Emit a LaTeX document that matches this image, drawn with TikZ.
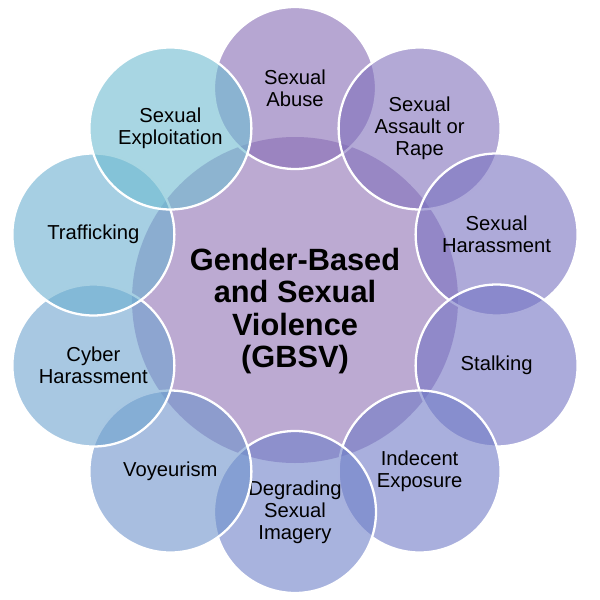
\documentclass[tikz,border=0pt]{standalone}
\usepackage{fontspec}
\setmainfont{Liberation Sans}
\usetikzlibrary{positioning,calc}

\definecolor{hubfill}{RGB}{188,170,210}
\definecolor{cabuse}{RGB}{133,107,180}
\definecolor{cassault}{RGB}{128,112,187}
\definecolor{charass}{RGB}{120,113,192}
\definecolor{cstalk}{RGB}{115,115,195}
\definecolor{cindecent}{RGB}{112,122,198}
\definecolor{cdegrade}{RGB}{110,128,200}
\definecolor{cvoyeur}{RGB}{110,147,203}
\definecolor{ccyber}{RGB}{110,163,207}
\definecolor{ctraffic}{RGB}{107,175,208}
\definecolor{cexploit}{RGB}{110,187,208}

\begin{document}
\begin{tikzpicture}
  \tikzstyle{hub}=[circle,fill=hubfill,minimum size=6.52cm,inner sep=0pt]
  \tikzstyle{petal}=[circle,draw=white,line width=1.3pt,fill opacity=0.6,text opacity=1,minimum size=3.24cm,inner sep=0pt,align=center,font=\fontsize{11.5}{12.5}\selectfont]
  \useasboundingbox (-5.9,-6) rectangle (6.1,6);
  \node[hub] (gbsv) at (0,0) {};
  \node[align=center,font=\bfseries\fontsize{17.5}{18.5}\selectfont] (title) at ($(gbsv)+(0,-0.22)$) {Gender-Based\\and Sexual\\Violence\\(GBSV)};
  % ring of forms, clockwise from the top
  \node[petal,fill=cabuse] (abuse) at (90:4.24) {Sexual\\Abuse};
  \node[petal,fill=cassault] (assault) at (54:4.24) {Sexual\\Assault or\\Rape};
  \node[petal,fill=charass] (harass) at (18:4.24) {Sexual\\Harassment};
  \node[petal,fill=cstalk] (stalk) at (-18:4.24) {Stalking};
  \node[petal,fill=cindecent] (indecent) at (-54:4.24) {Indecent\\Exposure};
  \node[petal,fill=cdegrade] (degrade) at (-90:4.24) {Degrading\\Sexual\\Imagery};
  \node[petal,fill=cvoyeur] (voyeur) at (-126:4.24) {Voyeurism};
  \node[petal,fill=ccyber] (cyber) at (-162:4.24) {Cyber\\Harassment};
  \node[petal,fill=ctraffic] (traffic) at (162:4.24) {Trafficking};
  \node[petal,fill=cexploit] (exploit) at (126:4.24) {Sexual\\Exploitation};
\end{tikzpicture}
\end{document}
